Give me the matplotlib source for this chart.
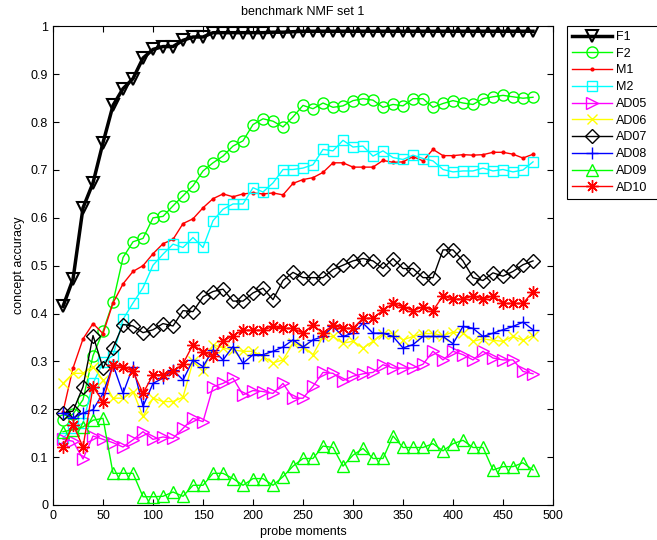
import matplotlib
matplotlib.use('Agg')
import matplotlib.pyplot as plt
import numpy as np

plt.rcParams['font.family'] = ['Liberation Sans', 'DejaVu Sans']

x = list(range(10, 490, 10))

f1 = [0.415, 0.472, 0.621, 0.673, 0.757, 0.835, 0.870, 0.891, 0.934, 0.952,
      0.958, 0.958, 0.971, 0.978, 0.978, 0.987, 0.987, 0.987, 0.987, 0.987,
      0.987, 0.988, 0.988, 0.989, 0.99, 0.99, 0.99, 0.99, 0.99, 0.99,
      0.99, 0.99, 0.99, 0.99, 0.99, 0.99, 0.99, 0.99, 0.99, 0.99,
      0.99, 0.99, 0.99, 0.99, 0.99, 0.99, 0.99, 0.99]
f2 = [0.178, 0.19, 0.22, 0.312, 0.363, 0.424, 0.517, 0.55, 0.557, 0.60,
      0.603, 0.625, 0.646, 0.667, 0.698, 0.715, 0.729, 0.75, 0.761, 0.795,
      0.807, 0.802, 0.79, 0.811, 0.835, 0.828, 0.84, 0.831, 0.834, 0.845,
      0.849, 0.846, 0.831, 0.837, 0.834, 0.849, 0.849, 0.831, 0.839, 0.845,
      0.84, 0.837, 0.849, 0.853, 0.856, 0.853, 0.85, 0.852]
m1 = [0.195, 0.286, 0.347, 0.379, 0.358, 0.422, 0.462, 0.488, 0.50, 0.525,
      0.546, 0.555, 0.588, 0.598, 0.621, 0.64, 0.65, 0.644, 0.65, 0.652,
      0.65, 0.652, 0.648, 0.672, 0.68, 0.684, 0.695, 0.715, 0.715, 0.706,
      0.706, 0.706, 0.72, 0.716, 0.717, 0.728, 0.719, 0.743, 0.73, 0.73,
      0.732, 0.731, 0.732, 0.737, 0.737, 0.733, 0.725, 0.733]
m2 = [0.14, 0.16, 0.171, 0.254, 0.298, 0.312, 0.388, 0.422, 0.454, 0.501,
      0.524, 0.545, 0.538, 0.559, 0.538, 0.594, 0.618, 0.629, 0.629, 0.663,
      0.654, 0.673, 0.701, 0.701, 0.704, 0.711, 0.743, 0.74, 0.762, 0.748,
      0.75, 0.729, 0.74, 0.726, 0.722, 0.731, 0.724, 0.719, 0.701, 0.696,
      0.698, 0.698, 0.704, 0.698, 0.701, 0.696, 0.70, 0.717]
ad05 = [0.137, 0.133, 0.096, 0.144, 0.137, 0.13, 0.121, 0.136, 0.153, 0.137,
        0.142, 0.139, 0.16, 0.181, 0.174, 0.247, 0.254, 0.265, 0.23, 0.239,
        0.237, 0.233, 0.254, 0.223, 0.223, 0.248, 0.277, 0.275, 0.26, 0.269,
        0.274, 0.277, 0.293, 0.286, 0.286, 0.286, 0.294, 0.321, 0.303, 0.321,
        0.314, 0.303, 0.321, 0.307, 0.303, 0.303, 0.279, 0.274]
ad06 = [0.254, 0.275, 0.275, 0.289, 0.261, 0.223, 0.223, 0.237, 0.185, 0.223,
        0.216, 0.216, 0.225, 0.30, 0.279, 0.335, 0.328, 0.324, 0.321, 0.321,
        0.31, 0.297, 0.303, 0.338, 0.331, 0.314, 0.352, 0.352, 0.338, 0.342,
        0.328, 0.342, 0.358, 0.358, 0.345, 0.352, 0.358, 0.358, 0.354, 0.361,
        0.36, 0.342, 0.347, 0.344, 0.342, 0.352, 0.344, 0.354]
ad07 = [0.192, 0.196, 0.247, 0.354, 0.286, 0.328, 0.377, 0.374, 0.36, 0.366,
        0.379, 0.374, 0.406, 0.404, 0.435, 0.446, 0.451, 0.426, 0.426, 0.443,
        0.453, 0.429, 0.469, 0.486, 0.475, 0.475, 0.475, 0.492, 0.501, 0.51,
        0.515, 0.51, 0.494, 0.515, 0.494, 0.494, 0.475, 0.475, 0.533, 0.533,
        0.51, 0.475, 0.469, 0.485, 0.478, 0.488, 0.502, 0.51]
ad08 = [0.192, 0.181, 0.192, 0.199, 0.233, 0.293, 0.233, 0.289, 0.206, 0.254,
        0.265, 0.282, 0.261, 0.303, 0.289, 0.324, 0.303, 0.331, 0.296, 0.314,
        0.314, 0.321, 0.33, 0.345, 0.33, 0.345, 0.352, 0.373, 0.352, 0.359,
        0.38, 0.359, 0.359, 0.352, 0.328, 0.335, 0.352, 0.352, 0.352, 0.337,
        0.373, 0.369, 0.352, 0.359, 0.366, 0.373, 0.382, 0.366]
ad09 = [0.153, 0.157, 0.163, 0.177, 0.181, 0.066, 0.066, 0.066, 0.017, 0.017,
        0.018, 0.027, 0.018, 0.041, 0.041, 0.066, 0.066, 0.055, 0.041, 0.055,
        0.055, 0.041, 0.059, 0.081, 0.097, 0.097, 0.123, 0.12, 0.081, 0.104,
        0.118, 0.097, 0.097, 0.144, 0.12, 0.12, 0.12, 0.128, 0.113, 0.128,
        0.135, 0.12, 0.12, 0.073, 0.08, 0.08, 0.088, 0.073]
ad10 = [0.121, 0.168, 0.121, 0.247, 0.216, 0.293, 0.289, 0.279, 0.233, 0.272,
        0.272, 0.279, 0.295, 0.335, 0.319, 0.312, 0.342, 0.354, 0.365, 0.365,
        0.365, 0.373, 0.369, 0.369, 0.359, 0.376, 0.359, 0.376, 0.369, 0.369,
        0.39, 0.39, 0.407, 0.421, 0.414, 0.406, 0.414, 0.406, 0.437, 0.43,
        0.43, 0.437, 0.43, 0.437, 0.421, 0.421, 0.421, 0.446]

labels = ['F1', 'F2', 'M1', 'M2', 'AD05', 'AD06', 'AD07', 'AD08', 'AD09', 'AD10']

fig = plt.figure(figsize=(6.57, 5.4), dpi=100)
ax = fig.add_axes([0.0807, 0.065, 0.761, 0.886])

# matlab-ish asterisk: 8 arm star drawn with lines
star = (8, 2, 0)

ax.plot(x, f1, '-v', color='k', lw=2.5, ms=8, mfc='none', mew=1.5, label=labels[0])
ax.plot(x, f2, '-o', color=(0, 1, 0), lw=1, ms=8, mfc='none', label=labels[1])
ax.plot(x, m1, '.-', color=(1, 0, 0), lw=1, ms=4, label=labels[2])
ax.plot(x, m2, '-s', color=(0, 1, 1), lw=1, ms=7, mfc='none', label=labels[3])
ax.plot(x, ad05, '->', color=(1, 0, 1), lw=1, ms=8, mfc='none', label=labels[4])
ax.plot(x, ad06, '-x', color=(1, 1, 0), lw=1, ms=7, label=labels[5])
ax.plot(x, ad07, '-D', color='k', lw=1, ms=7, mfc='none', label=labels[6])
ax.plot(x, ad08, '-+', color=(0, 0, 1), lw=1, ms=9, label=labels[7])
ax.plot(x, ad09, '-^', color=(0, 1, 0), lw=1, ms=8, mfc='none', label=labels[8])
ax.plot(x, ad10, '-', color=(1, 0, 0), lw=1, marker=star, ms=9, label=labels[9])

ax.set_xlim(0, 500)
ax.set_ylim(0, 1)
ax.set_xticks(np.arange(0, 501, 50))
ax.set_yticks(np.arange(0, 1.01, 0.1))
ax.set_yticklabels(['0', '0.1', '0.2', '0.3', '0.4', '0.5', '0.6', '0.7', '0.8', '0.9', '1'])
ax.tick_params(direction='in', top=True, right=True, labelsize=9, length=4)
ax.set_title('benchmark NMF set 1', fontsize=9, pad=8)
ax.set_xlabel('probe moments', fontsize=9, labelpad=3)
ax.set_ylabel('concept accuracy', fontsize=9, labelpad=4)

# legend box runs off the right edge like in the original
leg = fig.legend(loc='upper left', bbox_to_anchor=(0.863, 0.5, 0.15, 0.452),
                 mode='expand', fontsize=9,
                 fancybox=False, edgecolor='k', framealpha=1, handlelength=3.2,
                 labelspacing=0.38, borderpad=0.4, handletextpad=0.3,
                 borderaxespad=0)
leg.get_frame().set_linewidth(0.8)

fig.savefig('out.png', dpi=100)
